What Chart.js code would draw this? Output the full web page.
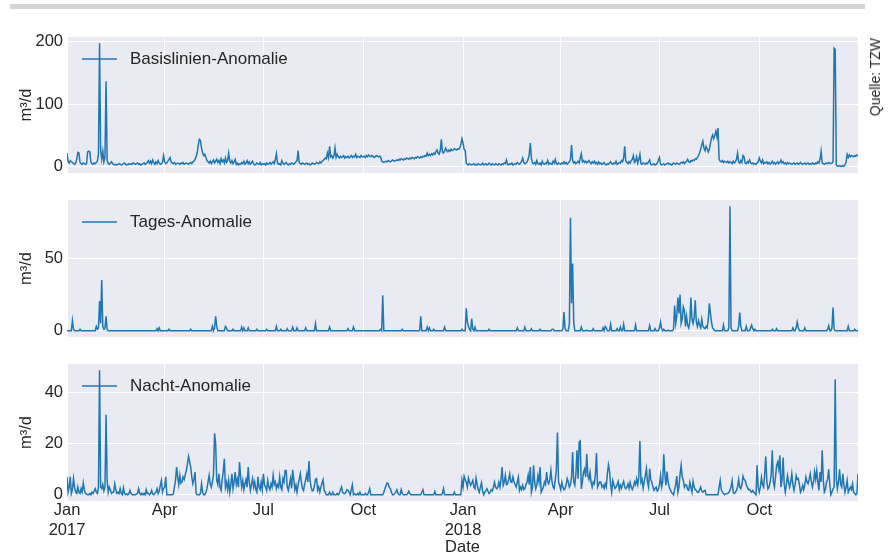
<!DOCTYPE html>
<html>
<head>
<meta charset="utf-8">
<script src="https://cdn.jsdelivr.net/npm/chart.js@4/dist/chart.umd.min.js"></script>
<style>
  html, body { margin: 0; padding: 0; background: #fff; width: 895px; height: 555px; overflow: hidden; }
  canvas.panel { position: absolute; left: 0; top: 0; }
  #bar { position: absolute; left: 10px; top: 4px; width: 855px; height: 5px; background: #d4d4d4; }
  #source {
    position: absolute; left: 867px; top: 38px;
    font: 14px "Liberation Sans", Arial, sans-serif; color: #262626;
    writing-mode: vertical-rl; transform: rotate(180deg); white-space: nowrap;
  }
</style>
</head>
<body>
<div id="bar"></div>
<canvas id="pBasis" class="panel" width="895" height="555"></canvas>
<canvas id="pTages" class="panel" width="895" height="555"></canvas>
<canvas id="pNacht" class="panel" width="895" height="555"></canvas>
<div id="source">Quelle: TZW</div>
<script>
// Daily series, one value per day from 1 Jan 2017 (day 0) to 31 Dec 2018 (day 729).
const firstDate = '2017-01-01';
const lastDay = 729;

// x-axis ticks: day index of each labelled month start
const tickDays = [0, 90, 181, 273, 365, 455, 546, 638];
const tickLabels = [['Jan', '2017'], 'Apr', 'Jul', 'Oct', ['Jan', '2018'], 'Apr', 'Jul', 'Oct'];

// y-axis ticks per panel
const basisTicks = [0, 100, 200];
const tagesTicks = [0, 50];
const nachtTicks = [0, 20, 40];

const basisLabel = 'Basislinien-Anomalie';
const tagesLabel = 'Tages-Anomalie';
const nachtLabel = 'Nacht-Anomalie';

// Basislinien-Anomalie, m³/d
const basisAnomalie = [
  22,8,6,10,8,7,5,4,6,12,23,22,7,5,4,6,5,4,5,24,25,24,8,5,4,6,5,7,9,20,198,            // Jan 2017
  28,12,25,8,15,137,10,5,4,6,8,5,4,3,4,3,4,5,4,3,4,5,6,4,3,4,5,4,                      // Feb
  5,4,6,5,4,5,6,4,5,3,4,5,6,4,5,7,10,6,9,5,11,7,4,8,5,10,6,4,5,7,18,                   // Mar
  8,5,6,9,12,15,8,6,5,7,4,5,6,5,4,6,5,7,4,5,6,5,4,6,7,5,8,9,12,16,                     // Apr
  22,35,44,42,30,22,18,20,15,10,8,6,9,5,8,11,6,9,12,7,10,5,13,8,11,6,14,7,10,22,9,     // May
  6,10,5,8,12,4,6,3,5,4,7,5,9,4,6,10,5,8,4,6,9,5,3,4,6,5,4,7,3,5,                      // Jun
  4,5,3,6,4,5,7,4,6,8,5,12,21,6,4,5,3,10,6,4,5,7,4,3,5,4,6,5,4,6,8,                    // Jul
  10,26,7,5,4,6,5,4,5,6,4,5,3,4,6,5,4,5,7,6,5,8,6,9,10,12,14,13,22,15,33,              // Aug
  16,18,14,17,30,15,20,16,14,17,15,16,18,14,16,15,17,14,16,18,15,17,16,20,15,17,16,15,18,16, // Sep
  16,17,15,18,16,19,17,16,18,17,15,16,18,17,16,17,16,9,8,7,8,9,8,10,9,8,9,11,10,9,10,  // Oct
  11,10,12,11,13,12,11,13,12,14,13,12,14,13,15,14,13,15,14,16,15,14,16,15,17,16,18,17,22,18, // Nov
  20,18,21,19,22,20,24,27,22,20,26,44,24,22,25,30,26,24,27,25,28,26,27,29,28,27,29,28,30,36,45, // Dec
  38,28,26,6,4,3,5,4,3,4,5,3,4,3,5,4,3,4,6,3,4,5,3,4,6,4,3,5,4,3,5,                    // Jan 2018
  4,3,5,4,3,5,4,6,5,11,4,3,5,4,6,3,4,5,4,7,5,4,6,9,14,7,5,6,                           // Feb
  8,12,20,38,14,6,5,7,4,10,5,4,6,3,9,5,4,6,5,10,4,6,5,4,9,6,12,5,4,6,5,                // Mar
  4,6,5,8,5,7,4,6,8,12,35,10,6,8,5,7,9,6,14,21,8,10,7,9,6,8,10,7,5,8,                  // Apr
  6,9,5,7,4,8,5,6,4,5,7,4,3,5,4,6,8,5,4,6,5,9,4,5,7,6,10,8,14,33,9,                    // May
  7,5,8,6,10,12,18,7,9,16,6,12,20,5,4,6,5,4,6,5,8,11,4,3,4,5,3,4,6,10,                 // Jun
  15,4,3,4,5,3,4,5,6,4,5,3,4,6,5,4,6,5,4,5,7,6,8,5,7,9,12,8,7,10,9,                    // Jul
  11,10,13,12,15,18,22,28,35,41,30,26,33,29,24,28,38,46,51,45,50,57,48,62,12,9,8,10,7,9,8, // Aug
  7,9,6,8,7,5,9,6,8,12,22,8,6,10,7,18,16,6,5,8,6,11,7,5,6,4,5,4,6,8,                   // Sep
  14,9,6,11,5,7,6,8,5,7,4,6,9,5,7,4,6,8,5,7,11,6,8,5,6,4,7,5,6,5,4,                    // Oct
  5,6,4,5,6,4,5,7,5,4,5,6,4,5,6,4,5,4,6,5,4,6,5,8,6,12,25,6,5,4,                       // Nov
  5,6,5,7,6,5,6,8,190,188,3,1,1,2,1,1,2,1,3,8,20,15,19,16,18,17,16,18,17,19,18         // Dec
];

// Tages-Anomalie, m³/d
const tagesAnomalie = [
  0,0,0,0,0,7,1,0,0,0,0,0,1,0,0,0,0,0,0,0,0,0,0,0,0,0,0,3,1,2,20.5,                    // Jan 2017
  5,35,3,1,2,10,1,0,0,0,0,0,0,0,0,0,0,0,0,0,0,0,0,0,0,0,0,0,                           // Feb
  0,0,0,0,0,0,0,0,0,0,0,0,0,0,0,0,0,0,0,0,0,0,0,0,1.5,0,2,0,0,0,0,                     // Mar
  0,0,0,0,1,0,0,0,0,0,0,0,0,0,0,0,0,0,0,0,0,0,0,0,1,0,0,0,0,0,                         // Apr
  0,0,0,0,0,0,0,0,0,0,0,0,0,0,3,0,2,10,3,0,0,0,0,0,0,0,3,2,0,0,0,                      // May
  0,0,1,0,0,0,0,0,0,0,2.5,0,2,0,0,0,2,0,0,0,0,0,0,0,1,0,0,0,0,0,                       // Jun
  0,0,0,1,0,0,0,0,0,0,0,0,3,0,0,0,1,0,0,0,0,0,1.5,0,0,0,0,2.5,0,0,0,                   // Jul
  2,0,0,0,0,0,0,0,2,0,0,0,0,0,0,0,0,5,0,0,0,0,0,0,0,0,0,0,0,0,2.5,                     // Aug
  0,0,0,0,0,0,0,0,0,0,0,0,0,0,0,0,1.5,0,0,0,0,2.5,0,0,0,0,0,0,0,0,                     // Sep
  0,0,0,0,0,0,0,0,0,0,0,0,0,0,0,0,1,0,24.5,0,0,0,0,0,0,0,0,0,0,0,0,                    // Oct
  0,0,0,0,0,1,0,0,0,0,0,0,0,0,0,0,0,0,0,0,0,0,10,0,0,0,0,0,2.5,0,                      // Nov
  2,0,0,0,1,0,0,0,0,0,0,0,0,0,2.5,0,0,0,0,0,0,0,0,0,0,0,0,0,0,0,1,                     // Dec
  0,0,0,15.5,6,3,1,0,8.5,1,0,2.5,0,0,0,0,0,0,0,0,0,0,0,0,1,0,0,0,0,0,0,                // Jan 2018
  0,0,0,0,0,0,0,0,0,0,0,0,0,0,0,0,0,0,0,2,0,0,0,0,0,0,2.5,0,                           // Feb
  0,0,0,0,1.5,0,0,0,0,0,0,0,1,0,0,0,0,0,0,0,0,0,0,1,1,0,0,0,0,0,0,                     // Mar
  0,0,1,13,2,0,0,0,5,78,19,46.5,6,0,0,0,0,0,0,2.5,0,0,0,0,0.5,0,0,0,0,0,               // Apr
  1.5,0,0,0,0,0,0,0,0,2,0,3,2,0,0,0,4.5,0,0,0,0,0,1.5,0,0,2.5,0,0,4.5,0,0,             // May
  0,0,0,0,0,0,0,0,4,0,0,0,0,0,0,0,0,0,0,0,0,3.5,0,0,0,0,1.5,0,0,0,                     // Jun
  2,6,1.5,0,1,0,0,0,0.5,0,0,0,0,1,17.5,5,10,23,12,25,5,8,16.5,14,3,10,4,2,6,23,8,      // Jul
  5,9,21,6,3,7,4,2,8,3,2,1.5,3,2,8,19,12,6,2,1,0,0,0,0,0,0,0,0,4,0,0,                  // Aug
  0,0,2,86,2,0,0,0,0,0,0,3,12.5,3,0,0,0,0,3,0,0,0,2,4,1.5,0,1,0,0,0,                   // Sep
  0,0,0,0,0,0,0,0,0,0,0,0,1,0,0,0,1.5,0,0,0,0,0,0,0,0,0,0,0,0,0,0,                     // Oct
  2,0,0,2,6,2,0,0,0,0,0,2,0,0,0,0,0,0,0,0,0,0,0,0,0,0,0,0,0,0,                         // Nov
  0,0,1,3.5,0,0,2,16,1,0,0,0,0,0,0,0,0,0,0,0,0,3,0,0,0,0,0,1,0,0,0                     // Dec
];

// Nacht-Anomalie, m³/d
const nachtAnomalie = [
  7,1,3,7,0.5,2,6.3,3,1,0.5,3,1,0.5,2.4,1,4.6,2,0.5,0.3,0,0,0.5,0,1,0.5,1.5,2.4,1,0.5,3,48.7, // Jan 2017
  3,2.4,4,1.5,3,31.3,5.6,1,3,2,0.5,1,1,4.3,2,0.5,1,0.5,2.4,0.5,0,2.7,0.5,0,0.4,0,0.3,1.7,     // Feb
  0.5,0,0,0,0,0.3,0.5,2.4,0.5,0,0.6,0,0.5,0,2,0.5,0.6,0,0.5,1.7,0.3,0,0.6,1,2.4,0.5,1.5,3.7,5.6,1,2.4, // Mar
  3,7,0,0,0,0,0,0,0.3,3,5.6,10.8,7,4,7.6,4.5,5,7,6,8,9.5,12,15,13,10.8,7,4.3,6,8.9,0.5,       // Apr
  0,0,0,0.5,4.3,1,0,0,1,2.4,5,7.6,4.3,3,5,8,24,20,5.6,4,8.2,3,1.7,6,9,14.1,3,5,2,5.6,1,      // May
  4,8.2,2.4,5,8.9,4,6,3,12.8,7,3,5.6,2,4.3,6,3,10.8,5,1.7,4,6.3,3,5,2,1,7,3,2,5,2,           // Jun
  8.2,4,3,1.7,5.6,3,2,4.3,3,7.6,4,5,2.4,4,3,7,3,2,6.3,5,9.5,9.5,3,1.7,4,6.3,2.5,9.8,6,2,3.7, // Jul
  1,4,6,8.2,4.9,2.5,1.7,4,6,8.2,5,13.2,5.6,3,1.5,1.7,3.5,6,6.3,1.8,3,1,3,4.5,5.9,1.7,1,0,0,0,1, // Aug
  0,0,1,0,0,0,0.5,0,0.5,2,3,1,0.5,0.4,1,2,1.7,1,0,2,3.9,0,0.4,0,0,0.5,0,1,0,0,               // Sep
  0,0,0.5,0,0,1,2.4,0,0,0,0,0,0,0,0,0,0,0,0,1,2.4,3.5,4.6,4.3,3,2.4,1,0,0,0.4,1,             // Oct
  2,0.5,0,0,2,0.5,0,0,0,0,0.5,1.4,0.5,0,0,0,0,0,0,0,0,0,0,1,2,0,0,0,0,0,                     // Nov
  0,0,0,0,0,1.3,0,0,0,0,0,0,0.5,2.4,0,0,0,0,0,0,0,0,0,1,0,0,0,0,0,0,5.6,                     // Dec
  3,7.3,6,4.9,3,6.5,5,3.7,4.5,5.6,3,2.4,6.5,4,2,1,3,4.7,1.5,0,1,1.5,2.4,1.5,0.5,1,2,1.5,3,4.9,3, // Jan 2018
  2.4,3,4.9,3,6,10.8,3.7,5,7.6,4,4.3,6,8.2,5,4.9,7,5,4,3,5,6.9,1.7,3,2,3.7,2,2.4,4,          // Feb
  5,7.6,4,10.8,1,3,11.5,5,2.4,4,7.5,5,10.8,1,2,3,5,4,8.9,5,4.3,6,9.5,5,3,2.4,6,9.5,24.3,5,3.7, // Mar
  2,4.9,3,2,2.4,4,6.3,5,3,4,7,16.7,5,3.7,8,17.4,6.3,20.6,21,2.3,5,8.8,10,7,16,7.5,6,8.8,5,3, // Apr
  5,4.3,8,16.3,3,4,5,4.9,3,3.7,2.5,4.3,3,8,11.8,9.5,4,1,5.6,4,2.5,3,4,5.2,2,3.7,2.5,4,5.2,3,2.4, // May
  3,4.3,2.5,4.9,3,2,3,5,4,6.3,4,6.9,21,4.9,6,2.6,5,7.5,10.2,5,3,10.2,6,4.9,3,1.7,2.5,3,1.5,2, // Jun
  4,7.5,3,5,15.8,8,3.7,9.1,5,3,2,1,0.5,0,2,4,7.3,1,3,8,11.5,7,5.6,3,4,3.7,2,1.7,4.9,3,1,     // Jul
  5.2,3,2,1.7,1,1,2,3,1.5,1,1.5,1.8,0,0,0,0,0,0,0,0,0,0,0,0,3,5.6,2,1,0.5,0,0.4,             // Aug
  0.4,0.5,1,1.7,3,5.5,1,0.5,1,1.7,3,6,3,2.4,4,7.3,6,5.6,4,3,2,2.1,1.5,1,1.7,1,0.5,0,11.5,3,  // Sep
  1,3,6.8,4,3,8,15,5,2.3,3,4.9,8,17.4,5,3,7,11.5,12.8,10,15.4,3,6,14.6,4,1,4,7.5,5,3,5,8.2,  // Oct
  4,1.7,4,7.5,6,6.3,4,1,2,3.7,2,4,6.9,5,4.3,6,8.2,5,3,5,8.9,6,9.5,5,1.7,8.9,5,17.4,6,1,      // Nov
  2,4.9,6,10,4,0,1,2.3,3,45.2,6,2.3,5,10,4,3,8.2,4,1,3,5.6,1,2,3,2,4.3,1,0.5,0,0.5,8.2       // Dec
];

const FONT = '"Liberation Sans", Arial, Helvetica, sans-serif';
const TEXT = '#262626';
const LINE = '#1f77b4';
Chart.defaults.font.family = FONT;
Chart.defaults.color = TEXT;

// Plot-area background plus an in-plot legend entry (line handle + label)
const panelDecor = {
  id: 'panelDecor',
  beforeDraw(chart) {
    const { ctx, chartArea: a } = chart;
    ctx.save();
    ctx.fillStyle = '#eaeaf2';
    ctx.fillRect(a.left, a.top, a.right - a.left, a.bottom - a.top);
    ctx.restore();
  },
  afterDatasetsDraw(chart) {
    const { ctx, chartArea: a } = chart;
    const ds = chart.data.datasets[0];
    const y = a.top + 22;
    ctx.save();
    ctx.strokeStyle = ds.borderColor;
    ctx.lineWidth = 1.5;
    ctx.beginPath();
    ctx.moveTo(a.left + 15, y);
    ctx.lineTo(a.left + 50, y);
    ctx.stroke();
    ctx.fillStyle = TEXT;
    ctx.font = '17px ' + FONT;
    ctx.textBaseline = 'middle';
    ctx.fillText(ds.label, a.left + 63, y);
    ctx.restore();
  }
};

const PLOT_LEFT = 67, PLOT_RIGHT = 858, PAGE_W = 895, PAGE_H = 555;

function makePanel(canvasId, label, values, yTicks, areaTop, areaBottom, showDates) {
  const peak = Math.max(...values);
  const xAxisHeight = showDates ? PAGE_H - areaBottom : 0;
  return new Chart(document.getElementById(canvasId), {
    type: 'line',
    data: {
      datasets: [{
        label,
        data: values.map((v, i) => ({ x: i, y: v })),
        borderColor: LINE,
        borderWidth: 1.5,
        pointRadius: 0,
        tension: 0,
        fill: false
      }]
    },
    options: {
      responsive: false,
      animation: false,
      devicePixelRatio: 1,
      layout: { padding: { top: areaTop, bottom: PAGE_H - areaBottom - xAxisHeight, left: 0, right: PAGE_W - PLOT_RIGHT } },
      plugins: { legend: { display: false }, tooltip: { enabled: false } },
      scales: {
        x: {
          type: 'linear',
          min: 0,
          max: lastDay,
          afterBuildTicks: s => { s.ticks = tickDays.map(v => ({ value: v })); },
          afterFit: s => { s.height = xAxisHeight; },
          ticks: {
            display: showDates,
            autoSkip: false,
            maxRotation: 0,
            padding: 0,
            color: TEXT,
            font: { size: 16.5 },
            callback: (v, i) => tickLabels[i]
          },
          grid: { color: '#ffffff', lineWidth: 1, drawTicks: false },
          border: { display: false },
          title: { display: showDates, text: 'Date', color: TEXT, font: { size: 16.5 }, padding: { top: 0, bottom: -2 } }
        },
        y: {
          min: -0.05 * peak,
          max: 1.05 * peak,
          afterBuildTicks: s => { s.ticks = yTicks.map(v => ({ value: v })); },
          afterFit: s => { s.width = PLOT_LEFT; },
          ticks: { padding: 4, color: TEXT, font: { size: 16.5 } },
          grid: { color: '#ffffff', lineWidth: 1, drawTicks: false },
          border: { display: false },
          title: { display: true, text: 'm³/d', color: TEXT, font: { size: 16.5 }, padding: { top: 17, bottom: 0 } }
        }
      }
    },
    plugins: [panelDecor]
  });
}

makePanel('pBasis', basisLabel, basisAnomalie, basisTicks, 37, 173, false);
makePanel('pTages', tagesLabel, tagesAnomalie, tagesTicks, 200, 337, false);
makePanel('pNacht', nachtLabel, nachtAnomalie, nachtTicks, 364, 501, true);
</script>
</body>
</html>
